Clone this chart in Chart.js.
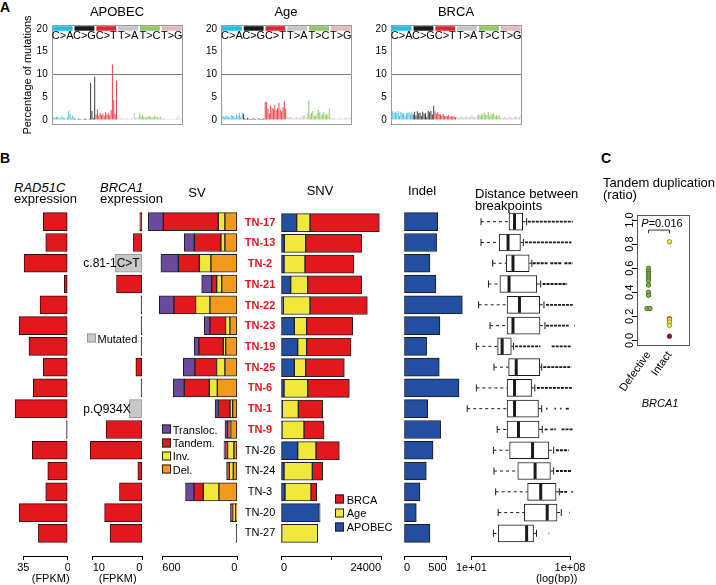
<!DOCTYPE html>
<html>
<head>
<meta charset="utf-8">
<title>Signatures and rearrangements</title>
<script src="https://cdn.jsdelivr.net/npm/chart.js@4.4.1/dist/chart.umd.min.js"></script>
<style>
  body { margin: 0; background: #fff; }
  #fig { position: relative; width: 716px; height: 585px; overflow: hidden;
         font-family: 'Liberation Sans', Arial, Helvetica, sans-serif; color: #000; }
  #fig canvas { position: absolute; }
  .t { position: absolute; white-space: nowrap; line-height: 1; }
  .c { transform: translate(-50%, -50%); }
  .l { transform: translateY(-50%); }
  .sq { position: absolute; width: 7px; height: 7px; border: 1px solid #222; transform: translateY(-50%); }
</style>
</head>
<body>
<div id="fig"></div>
<script>
// Panel A: 96-channel signature profiles (% of mutations)
const mutTypes = ['C>A', 'C>G', 'C>T', 'T>A', 'T>C', 'T>G'];
const bandColors = ['#1ebff0', '#1a1a1a', '#e3242b', '#c6c6c6', '#8ec96a', '#e6b8bb'];
const barColors = ['#4cc0ea', '#404040', '#e9474c', '#cdcdcd', '#97cc6c', '#e8c1c2'];
const bases = ['A', 'C', 'G', 'T'];
const sigTicks = [0, 5, 10, 15, 20];

const apobecSig = [
  0.9, 0.6, 0.5, 0.7, 0.6, 0.5, 0.3, 0.8, 0.5, 0.4, 0.3, 0.6, 2.1, 1.3, 0.4, 1.0,
  0.3, 0.2, 0.1, 0.3, 0.2, 0.2, 0.1, 0.2, 0.3, 0.2, 0.1, 0.2, 8.2, 2.0, 0.4, 9.5,
  1.2, 2.3, 1.0, 1.6, 1.1, 1.4, 0.9, 1.7, 1.2, 1.5, 1.0, 2.2, 12.2, 4.4, 1.3, 8.6,
  0.6, 0.3, 0.4, 0.5, 0.3, 0.2, 0.3, 0.4, 0.3, 0.2, 0.4, 0.3, 1.5, 0.5, 0.4, 0.7,
  1.5, 0.8, 1.1, 0.7, 0.6, 0.5, 0.8, 0.9, 0.7, 0.5, 0.6, 1.0, 0.7, 0.6, 0.4, 0.8,
  0.4, 0.3, 0.5, 0.3, 0.2, 0.2, 0.3, 0.2, 0.3, 0.2, 0.3, 0.4, 0.9, 0.3, 0.2, 0.6
];
const ageSig = [
  3.3, 0.9, 0.6, 1.0, 0.8, 0.7, 0.5, 1.1, 0.9, 0.8, 0.5, 1.2, 0.9, 1.5, 0.6, 1.6,
  1.3, 0.4, 0.2, 0.5, 0.3, 0.2, 0.2, 0.3, 0.3, 0.2, 0.1, 0.3, 0.3, 0.2, 0.2, 0.4,
  4.0, 3.9, 2.4, 1.5, 3.1, 2.7, 2.4, 3.3, 2.2, 2.6, 3.8, 2.3, 1.9, 2.8, 4.1, 2.5,
  0.8, 0.5, 0.6, 0.7, 0.4, 0.3, 0.5, 0.6, 0.5, 0.4, 0.5, 0.8, 1.0, 1.1, 0.6, 1.5,
  4.3, 1.2, 1.6, 2.0, 1.0, 0.9, 1.5, 2.2, 1.7, 1.0, 1.3, 1.8, 1.1, 1.4, 1.0, 2.6,
  0.5, 0.3, 0.4, 0.3, 0.2, 0.3, 0.2, 0.4, 0.3, 0.2, 0.3, 0.5, 0.4, 0.3, 0.3, 0.7
];
const brcaSig = [
  2.0, 1.9, 1.6, 1.8, 1.5, 1.9, 0.9, 1.8, 1.4, 1.5, 0.8, 1.5, 1.6, 1.7, 1.2, 1.8,
  1.2, 1.8, 1.0, 1.9, 1.5, 1.6, 0.9, 1.8, 1.3, 1.5, 0.7, 2.0, 1.7, 2.0, 1.2, 3.1,
  1.9, 1.4, 1.7, 1.3, 1.2, 1.0, 1.3, 0.9, 0.8, 0.9, 1.1, 0.7, 0.9, 0.7, 0.8, 0.6,
  0.8, 0.5, 0.6, 0.9, 0.6, 0.5, 0.7, 0.8, 0.5, 0.6, 0.7, 1.2, 0.8, 0.6, 0.5, 1.0,
  1.2, 1.0, 1.4, 1.1, 1.6, 1.2, 1.1, 1.7, 1.0, 1.3, 1.2, 1.5, 0.9, 1.0, 0.8, 1.1,
  0.6, 0.4, 0.5, 0.7, 0.5, 0.4, 0.5, 0.9, 0.5, 0.4, 0.6, 0.8, 0.6, 0.5, 0.7, 1.2
];

// Panel B: per-tumour values
const samples = ['TN-17', 'TN-13', 'TN-2', 'TN-21', 'TN-22', 'TN-23', 'TN-19', 'TN-25',
                 'TN-6', 'TN-1', 'TN-9', 'TN-26', 'TN-24', 'TN-3', 'TN-20', 'TN-27'];
const brca1Defective = [true, true, true, true, true, true, true, true,
                        true, true, true, false, false, false, false, false];
const rad51cExpr = [19.2, 17.3, 34.4, 2.7, 21.8, 38.3, 30.5, 19.2, 27.1, 41.5, 0.5, 27.9, 15.7, 17.3, 38.3, 23.1];
const brca1Expr = [0.5, 1.8, 5.5, 5.2, 0.1, 0.1, 0.1, 1.3, 0.1, 2.6, 7.3, 10.5, 0.9, 4.6, 7.6, 6.5];
const brca1Mutation = ['', '', 'c.81-1C>T', '', '', '', '', '', '', 'p.Q934X', '', '', '', '', '', ''];
const expr1Ticks = [0, 35];
const expr2Ticks = [0, 10];

const svTypes = ['Transloc.', 'Tandem.', 'Inv.', 'Del.'];
const svColors = ['#6b4a9e', '#e3181f', '#f0e83a', '#f39a1e'];
const svTransloc = [120, 80, 139, 80, 117, 45, 37, 93, 88, 27, 19, 16, 11, 67, 13, 0];
const svTandem = [440, 213, 168, 40, 173, 125, 195, 173, 200, 93, 16, 13, 11, 75, 5, 0];
const svInv = [53, 32, 93, 40, 115, 35, 19, 67, 64, 21, 11, 51, 32, 125, 24, 0];
const svDel = [99, 99, 211, 125, 219, 59, 93, 99, 160, 37, 53, 27, 32, 147, 13, 3];
const svTicks = [0, 600];

const snvTypes = ['BRCA', 'Age', 'APOBEC'];
const snvColors = ['#e3181f', '#f0e83a', '#234fa2'];
const snvApobec = [3760, 800, 720, 2320, 560, 3200, 4000, 3200, 720, 320, 240, 4000, 720, 960, 9200, 160];
const snvAge = [3200, 5120, 5040, 4080, 6400, 2960, 2160, 2720, 5680, 3840, 5280, 4400, 6800, 6240, 200, 8640];
const snvBrca = [16640, 13440, 11760, 12960, 13760, 11040, 10640, 9280, 10000, 5840, 4800, 5600, 2480, 1360, 0, 0];
const snvTicks = [0, 12000, 24000];
const snvTickLabels = ['0', '', '24000'];

const indelCount = [394, 382, 304, 374, 683, 421, 265, 413, 644, 277, 429, 340, 261, 187, 144, 304];
const indelTicks = [0, 500];

// distance between breakpoints, log10(bp)
const bpLow = [1.68, 1.68, 2.51, 2.21, 1.51, 2.32, 1.35, 2.60, 1.35, 0.70, 2.83, 2.56, 2.60, 2.72, 2.90, 2.56];
const bpQ1 = [3.67, 2.97, 3.48, 3.02, 3.53, 3.53, 2.86, 3.64, 3.53, 3.53, 3.53, 3.71, 4.29, 4.99, 4.76, 2.90];
const bpMed = [4.06, 3.60, 3.95, 3.67, 4.41, 3.95, 3.18, 4.18, 4.06, 4.06, 4.34, 5.34, 5.52, 5.92, 6.38, 4.92];
const bpQ3 = [4.64, 4.48, 5.10, 5.64, 5.85, 5.87, 3.83, 5.85, 5.27, 5.76, 5.80, 6.50, 6.61, 7.01, 7.08, 5.41];
const bpHigh = [4.92, 4.69, 5.29, 5.92, 6.15, 6.22, 3.99, 5.99, 5.50, 5.99, 6.03, 6.84, 6.84, 7.24, 7.38, 5.62];
const bpOutliers = [
  [[5.0, 8.2]], [[4.8, 8.1]], [[5.35, 6.4], [6.6, 7.4], [7.6, 8.2]], [[6.05, 7.8]],
  [[6.3, 8.2]], [[6.3, 7.9], [8.3, 8.35]], [[4.1, 5.9], [6.7, 8.05]], [[6.1, 8.1]],
  [[5.65, 8.2]], [[6.3, 6.4], [6.9, 7.0], [7.3, 7.4], [7.7, 7.95]], [[6.2, 6.4], [6.6, 7.0], [7.4, 8.2]],
  [[7.0, 7.9]], [[7.0, 8.1]], [[7.3, 7.8], [8.1, 8.2]], [[7.93, 7.97]], [[6.48, 6.52]]
];
const bpTicks = [1, 8];
const bpTickLabels = ['1e+01', '1e+08'];

// Panel C: tandem duplication ratio
const tdGroups = ['Defective', 'Intact'];
const tdDefective = [0.60, 0.575, 0.555, 0.535, 0.515, 0.495, 0.46, 0.40, 0.375, 0.265, 0.265];
const tdDefectiveJitter = [0, 0, 0, 0, 0, 0, 0, 0, 0, -0.07, 0.07];
const tdIntact = [0.82, 0.18, 0.175, 0.153, 0.125, 0.035];
const tdIntactClass = [0, 1, 0, 0, 0, 2];
const tdIntactFill = ['#f2e54a', '#d8262a', '#8e1b1f'];
const tdIntactEdge = ['#8a7d18', '#6e1010', '#4a0c0c'];
const tdTicks = [0, 0.2, 0.4, 0.6, 0.8, 1.0];
const tdTickLabels = ['0.0', '0.2', '0.4', '0.6', '0.8', '1.0'];
const bracketX = [1, 2];
const bracketY = [0.89, 0.917];

Chart.defaults.font.family = "'Liberation Sans', Arial, Helvetica, sans-serif";
Chart.defaults.font.size = 11;
Chart.defaults.color = '#000';

const fig = document.getElementById('fig');
const base = {
  responsive: false, animation: false, devicePixelRatio: 1, events: [],
  plugins: { legend: { display: false }, tooltip: { enabled: false } }
};

function place(id, left, top, w, h) {
  const c = document.createElement('canvas');
  c.id = id;
  c.width = w;
  c.height = h;
  c.style.left = left + 'px';
  c.style.top = top + 'px';
  c.style.width = w + 'px';
  c.style.height = h + 'px';
  fig.appendChild(c);
  return c;
}

function txt(s, x, y, o = {}) {
  const d = document.createElement('div');
  d.className = 't ' + (o.left ? 'l' : 'c');
  d.style.left = x + 'px';
  d.style.top = y + 'px';
  d.style.fontSize = (o.size || 13) + 'px';
  if (o.bold) d.style.fontWeight = 'bold';
  if (o.italic) d.style.fontStyle = 'italic';
  if (o.html) d.innerHTML = s; else d.textContent = s;
  fig.appendChild(d);
}

function square(x, y, color, edge) {
  const d = document.createElement('div');
  d.className = 'sq';
  d.style.left = x + 'px';
  d.style.top = y + 'px';
  d.style.background = color;
  if (edge) d.style.borderColor = edge;
  fig.appendChild(d);
}

const frame = color => ({
  id: 'frame',
  afterDatasetsDraw(chart) {
    const a = chart.chartArea, ctx = chart.ctx;
    ctx.save();
    ctx.strokeStyle = color;
    ctx.lineWidth = 1;
    ctx.strokeRect(Math.round(a.left) + 0.5, Math.round(a.top) + 0.5,
                   Math.round(a.width) - 1, Math.round(a.height) - 1);
    ctx.restore();
  }
});

// coloured mutation-class bands along the top of each profile
const bands = {
  id: 'bands',
  afterDatasetsDraw(chart) {
    const { ctx, scales: { x, y } } = chart;
    const half = (x.getPixelForValue(1) - x.getPixelForValue(0)) / 2;
    ctx.save();
    ctx.font = "11px 'Liberation Sans', Arial, sans-serif";
    ctx.textAlign = 'center';
    ctx.textBaseline = 'middle';
    mutTypes.forEach((m, g) => {
      const x0 = x.getPixelForValue(g * 16) - half + 1;
      const x1 = x.getPixelForValue(g * 16 + 15) + half - 1;
      const y0 = y.getPixelForValue(20.6), y1 = y.getPixelForValue(19.6);
      ctx.fillStyle = bandColors[g];
      ctx.fillRect(x0, y0, x1 - x0, y1 - y0);
      ctx.fillStyle = '#000';
      ctx.fillText(m, (x0 + x1) / 2, y.getPixelForValue(18.45));
    });
    ctx.restore();
  }
};

const contexts = mutTypes.flatMap(m => bases.flatMap(a => bases.map(b => a + '[' + m + ']' + b)));

function sigChart(id, left, width, axisW, values, withTitle) {
  const cv = place(id, left, 15, width, 120);
  return new Chart(cv, {
    type: 'bar',
    data: {
      labels: contexts,
      datasets: [{
        data: values,
        backgroundColor: contexts.map((c, i) => barColors[Math.floor(i / 16)]),
        barPercentage: 0.75,
        categoryPercentage: 1
      }]
    },
    options: {
      ...base,
      layout: { padding: { top: 4, right: 3.3, bottom: 3.3, left: 0 } },
      scales: {
        x: { display: false, offset: true },
        y: {
          min: -1.1, max: 20.86,
          afterFit: s => { s.width = axisW; },
          afterBuildTicks: s => { s.ticks = sigTicks.map(v => ({ value: v })); },
          border: { display: false },
          grid: { color: c => (c.tick && c.tick.value === 10 ? '#7a7a7a' : 'rgba(0,0,0,0)'), drawTicks: false },
          ticks: { font: { size: 10 }, padding: 4, callback: v => String(v) },
          title: { display: withTitle, text: 'Percentage of mutations', font: { size: 11 }, padding: { top: 11.4, bottom: 0 } }
        }
      }
    },
    plugins: [frame('#9a9a9a'), bands]
  });
}

sigChart('apobec', 10, 176, 41.7, apobecSig, true);
sigChart('age', 190, 165, 31, ageSig, false);
sigChart('brca', 360, 165, 30.7, brcaSig, false);

// Panel B: rows share one linear index scale
const rows = arr => arr.map((v, i) => ({ x: v, y: i }));
const rowAxis = extra => Object.assign({
  type: 'linear', reverse: true, min: -0.5, max: 16.09, offset: false, display: false
}, extra || {});
const tickRow = c => (c.tick ? c.tick.value : c.index);

function valueAxis(min, max, tickVals, labels, o = {}) {
  return {
    type: 'linear', min, max, reverse: !!o.reverse, stacked: !!o.stacked,
    afterFit: s => { s.height = 29; },
    afterBuildTicks: s => { s.ticks = tickVals.map(v => ({ value: v })); },
    border: { display: true, color: '#000', width: 1 },
    grid: { drawOnChartArea: false, drawTicks: true, tickLength: 4, tickColor: '#000', tickWidth: 1 },
    ticks: {
      font: { size: 11 }, padding: 1, maxRotation: 0, autoSkip: false, align: o.align || 'center',
      callback: (v, i) => (labels ? labels[i] : String(v))
    }
  };
}

function hbarChart(id, left, width, padL, padR, datasets, xAxis, yAxis, plugins) {
  const cv = place(id, left, 200, width, 385);
  return new Chart(cv, {
    type: 'bar',
    data: { datasets },
    options: {
      ...base,
      indexAxis: 'y',
      layout: { padding: { top: 11.3, bottom: 0, left: padL, right: padR } },
      scales: { x: xAxis, y: yAxis || rowAxis() }
    },
    plugins: plugins || []
  });
}

const barStyle = { borderWidth: 1, borderSkipped: false, barThickness: 18, clip: false };
// near-zero bars show up as a dark hairline
const fillOr = (vals, color, cut) => vals.map(v => (v < cut ? '#2a2a2a' : color));

hbarChart('rad51c', 10, 60, 13.3, 2.3,
  [{ data: rows(rad51cExpr), backgroundColor: fillOr(rad51cExpr, '#e3181f', 1), borderColor: '#3a0a0a',
     minBarLength: 1.2, ...barStyle }],
  valueAxis(0, 35, expr1Ticks, null, { reverse: true }));

hbarChart('brca1', 75, 70, 17.7, 2.7,
  [{ data: rows(brca1Expr),
     backgroundColor: brca1Expr.map((v, i) => (brca1Mutation[i] ? '#c8c8c8' : (v < 0.3 ? '#2a2a2a' : '#e3181f'))),
     borderColor: brca1Mutation.map(m => (m ? '#9a9a9a' : '#3a0a0a')), minBarLength: 1.2, ...barStyle }],
  valueAxis(0, 10, expr2Ticks, null, { reverse: true, align: 'inner' }));

hbarChart('sv', 145, 96, 17.3, 3.7,
  [svDel, svInv, svTandem, svTransloc].map((d, k) => Object.assign({
    data: rows(d), backgroundColor: k === 0 ? fillOr(d, svColors[3], 8) : svColors[3 - k],
    borderColor: '#222', ...barStyle
  }, k === 0 ? { minBarLength: 1.2 } : {})),
  valueAxis(0, 600, svTicks, null, { reverse: true, stacked: true, align: 'inner' }),
  rowAxis({ stacked: true }));

hbarChart('snv', 236, 152, 0, 7,
  [snvApobec, snvAge, snvBrca].map((d, k) => ({
    data: rows(d), backgroundColor: snvColors[2 - k], borderColor: '#222', ...barStyle
  })),
  valueAxis(0, 24000, snvTicks, snvTickLabels, { stacked: true, align: 'inner' }),
  rowAxis({
    stacked: true, display: true,
    afterFit: s => { s.width = 45; },
    afterBuildTicks: s => { s.ticks = samples.map((n, i) => ({ value: i })); },
    border: { display: false },
    grid: { display: false, drawTicks: false },
    ticks: {
      autoSkip: false, crossAlign: 'center', padding: 5.7,
      callback: v => samples[v],
      color: c => (brca1Defective[tickRow(c)] ? '#e3181f' : '#000'),
      font: c => ({ size: 11, weight: brca1Defective[tickRow(c)] ? 'bold' : 'normal' })
    }
  }));

hbarChart('indel', 392, 80, 12, 25.3,
  [{ data: rows(indelCount), backgroundColor: '#234fa2', borderColor: '#1a1a1a', ...barStyle }],
  valueAxis(0, 500, indelTicks, null, { align: 'inner' }));

// whiskers, caps, medians and outlier runs on top of the boxes
const boxExtras = {
  id: 'boxExtras',
  afterDatasetsDraw(chart) {
    const { ctx, scales: { x, y } } = chart;
    const seg = (x0, y0, x1, y1) => { ctx.beginPath(); ctx.moveTo(x0, y0); ctx.lineTo(x1, y1); ctx.stroke(); };
    ctx.save();
    ctx.strokeStyle = '#1a1a1a';
    samples.forEach((s, i) => {
      const py = y.getPixelForValue(i);
      const lo = x.getPixelForValue(bpLow[i]), q1 = x.getPixelForValue(bpQ1[i]);
      const q3 = x.getPixelForValue(bpQ3[i]), hi = x.getPixelForValue(bpHigh[i]);
      const md = x.getPixelForValue(bpMed[i]);
      ctx.lineWidth = 1;
      ctx.setLineDash([3, 3]);
      seg(lo, py, q1, py);
      seg(q3, py, hi, py);
      ctx.setLineDash([]);
      seg(lo, py - 3.5, lo, py + 3.5);
      seg(hi, py - 3.5, hi, py + 3.5);
      ctx.lineWidth = 3;
      seg(md, py - 8, md, py + 8);
      ctx.lineWidth = 1.8;
      ctx.setLineDash([3, 1]);
      bpOutliers[i].forEach(r => seg(x.getPixelForValue(r[0]), py, x.getPixelForValue(r[1]), py));
      ctx.setLineDash([]);
    });
    ctx.restore();
  }
};

hbarChart('dist', 455, 135, 14.3, 20,
  [{ data: samples.map((s, i) => ({ x: [bpQ1[i], bpQ3[i]], y: i })),
     backgroundColor: '#fff', borderColor: '#1a1a1a', borderWidth: 1, borderSkipped: false,
     barThickness: 17, clip: false }],
  valueAxis(1, 8, bpTicks, bpTickLabels),
  rowAxis(),
  [boxExtras]);

// Panel C
const cCanvas = place('tandem', 600, 205, 116, 200);
new Chart(cCanvas, {
  type: 'scatter',
  data: {
    datasets: [
      { data: tdDefective.map((v, i) => ({ x: 1 + tdDefectiveJitter[i], y: v })),
        pointRadius: 2.2, pointBackgroundColor: '#7db347', pointBorderColor: '#3d5a1c', pointBorderWidth: 0.8 },
      { data: tdIntact.map(v => ({ x: 2, y: v })),
        pointRadius: 2.2,
        pointBackgroundColor: tdIntactClass.map(k => tdIntactFill[k]),
        pointBorderColor: tdIntactClass.map(k => tdIntactEdge[k]), pointBorderWidth: 0.8 },
      { data: [{ x: bracketX[0], y: bracketY[0] }, { x: bracketX[0], y: bracketY[1] },
               { x: bracketX[1], y: bracketY[1] }, { x: bracketX[1], y: bracketY[0] }],
        showLine: true, pointRadius: 0, borderColor: '#333', borderWidth: 1 }
    ]
  },
  options: {
    ...base,
    layout: { padding: { top: 10, left: 17, right: 26, bottom: 0 } },
    scales: {
      x: {
        type: 'linear', min: 0.45, max: 2.98,
        afterFit: s => { s.height = 59; },
        afterBuildTicks: s => { s.ticks = [1, 2].map(v => ({ value: v })); },
        border: { display: false },
        grid: { display: false, drawTicks: false },
        ticks: { minRotation: 55, maxRotation: 55, autoSkip: false, padding: 3, font: { size: 11 },
                 callback: v => tdGroups[v - 1] }
      },
      y: {
        type: 'linear', min: -0.046, max: 1.042,
        afterFit: s => { s.width = 20; },
        afterBuildTicks: s => { s.ticks = tdTicks.map(v => ({ value: v })); },
        border: { display: false },
        grid: { drawOnChartArea: false, drawTicks: true, tickLength: 5, tickColor: '#000' },
        ticks: { minRotation: 90, maxRotation: 90, crossAlign: 'center', padding: -6, font: { size: 11 },
                 callback: (v, i) => tdTickLabels[i] }
      }
    }
  },
  plugins: [frame('#555')]
});

// Text: panel letters, headers, legends, annotations
txt('A', 5, 7, { bold: true, size: 14 });
txt('B', 5, 158, { bold: true, size: 14 });
txt('C', 606, 158, { bold: true, size: 14 });
txt('APOBEC', 117, 11);
txt('Age', 286, 11);
txt('BRCA', 456, 11);

txt('RAD51C', 14, 187, { left: true, italic: true });
txt('expression', 14, 198, { left: true });
txt('BRCA1', 100, 187, { left: true, italic: true });
txt('expression', 100, 198, { left: true });
txt('SV', 197, 192);
txt('SNV', 320, 190);
txt('Indel', 422, 190);
txt('Distance between', 475, 193, { left: true });
txt('breakpoints', 475, 205, { left: true });

brca1Mutation.forEach((m, i) => { if (m) txt(m, 83.3, 221.7 + i * 20.77, { left: true, size: 12 }); });
square(87.3, 338.3, '#c8c8c8', '#9a9a9a');
txt('Mutated', 97.5, 338.5, { left: true, size: 11 });

svTypes.forEach((t, k) => {
  square(162.3, 429.3 + k * 13.35, svColors[k]);
  txt(t, 172.7, 429.5 + k * 13.35, { left: true, size: 11 });
});
snvTypes.forEach((t, k) => {
  square(335, 499.3 + k * 13.7, snvColors[k]);
  txt(t, 346.7, 499.5 + k * 13.7, { left: true, size: 11 });
});

txt('(FPKM)', 50.7, 578, { size: 11 });
txt('(FPKM)', 117.7, 578, { size: 11 });
txt('(log(bp))', 556.7, 578, { size: 11 });

txt('Tandem duplication', 603, 182, { left: true });
txt('(ratio)', 603, 194, { left: true });
txt('<i>P</i>=0.016', 662, 223, { size: 11, html: true });
txt('BRCA1', 660, 403, { italic: true, size: 11 });
</script>
</body>
</html>
